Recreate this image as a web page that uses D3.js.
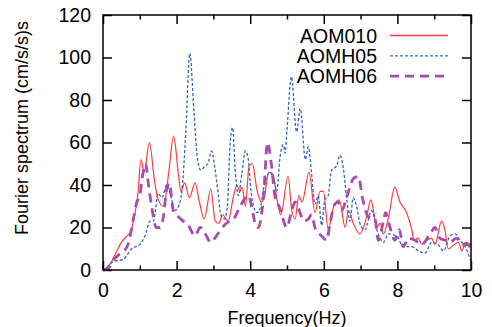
<!DOCTYPE html>
<html>
<head>
<meta charset="utf-8">
<script src="https://cdn.jsdelivr.net/npm/d3@7"></script>
<style>
  body { margin: 0; background: #fff; }
  svg text { font-family: "Liberation Sans", Arial, sans-serif; }
</style>
</head>
<body>
<script>
// [frequency (Hz), amplitude]
const aom010 = [[0,0],[0.2,3],[0.35,8],[0.5,13],[0.65,16],[0.75,18],[0.85,25],[0.95,36],[1.03,52],[1.12,46],[1.26,60],[1.4,42],[1.5,33],[1.65,30],[1.78,45],[1.92,63],[2.05,45],[2.12,37],[2.22,41],[2.35,34],[2.5,41],[2.62,32],[2.75,24],[2.93,38],[3.05,23],[3.15,22],[3.25,26],[3.4,23],[3.55,35],[3.64,40],[3.72,37],[3.78,39],[3.87,30],[3.97,49],[4.06,50],[4.18,38],[4.3,32],[4.38,34],[4.5,46],[4.62,45],[4.73,33],[4.83,26],[5.03,44],[5.13,28],[5.22,24],[5.32,35],[5.41,32],[5.6,46],[5.76,27],[5.9,37],[5.99,37],[6.12,19],[6.27,30],[6.42,33],[6.58,20],[6.67,28],[6.8,22],[6.98,17],[7.15,24],[7.28,33],[7.36,27],[7.44,20],[7.53,22],[7.62,17],[7.75,24],[7.93,39],[8.07,32],[8.25,27],[8.39,19],[8.45,14],[8.57,15],[8.66,12],[8.8,14],[8.93,15],[9.02,12],[9.2,23],[9.29,19],[9.38,10],[9.55,12],[9.66,13],[9.75,9],[9.85,13],[10,12]];
const aomh05 = [[0,0],[0.1,1],[0.28,4],[0.55,5],[0.78,10],[1.0,12],[1.14,16],[1.28,23],[1.37,23],[1.5,36],[1.6,34],[1.73,40],[1.87,33],[1.95,28],[2.05,30],[2.15,38],[2.25,65],[2.36,102],[2.47,75],[2.57,52],[2.66,47],[2.77,49],[2.85,50],[2.95,56],[3.04,48],[3.13,36],[3.2,26],[3.3,24],[3.38,30],[3.45,58],[3.52,67],[3.6,45],[3.68,35],[3.77,45],[3.87,56],[3.95,52],[4.0,41],[4.09,30],[4.18,27],[4.27,29],[4.36,38],[4.54,46],[4.65,42],[4.72,37],[4.81,53],[4.9,59],[4.95,55],[5.0,66],[5.12,91],[5.26,65],[5.36,76],[5.5,52],[5.58,58],[5.67,45],[5.76,31],[5.85,35],[5.94,21],[6.03,33],[6.12,35],[6.21,47],[6.35,49],[6.44,54],[6.53,48],[6.62,34],[6.71,23],[6.8,34],[6.89,30],[7.0,21],[7.12,19],[7.3,28],[7.44,19],[7.53,15],[7.62,13],[7.75,17],[7.98,16],[8.16,11],[8.39,11],[8.57,9],[8.75,8],[8.93,13],[9.1,12],[9.25,9],[9.43,16],[9.57,17],[9.7,14],[9.84,11],[10,4]];
const aomh06 = [[0,0],[0.15,1],[0.28,4.7],[0.42,7],[0.55,8.6],[0.69,12.5],[0.82,23.5],[0.92,32],[1.0,35],[1.08,45],[1.16,50],[1.23,41],[1.32,30],[1.45,20],[1.55,20],[1.64,25],[1.73,38],[1.8,41],[1.91,28],[2.05,25],[2.18,23],[2.32,21],[2.5,16],[2.64,20],[2.78,17],[2.93,13],[3.04,15],[3.2,19],[3.35,22],[3.55,24],[3.73,30],[3.95,35],[4.05,29],[4.15,21],[4.22,20],[4.36,34],[4.47,60],[4.58,49],[4.67,35],[4.81,29],[4.99,20],[5.13,28],[5.22,32],[5.31,29],[5.47,23],[5.58,24],[5.67,26],[5.76,20],[5.94,16],[6.08,14],[6.17,22],[6.3,31],[6.39,32],[6.49,28],[6.6,33],[6.71,39],[6.8,43],[6.94,44],[7.05,34],[7.21,25],[7.39,24],[7.48,14],[7.62,23],[7.68,27],[7.8,20],[7.93,14],[8.05,19],[8.16,11],[8.3,15],[8.48,14],[8.66,12],[8.89,17],[9.02,20],[9.15,15],[9.29,14],[9.43,13],[9.6,15],[9.75,12],[9.9,12],[10,10]];

const seriesNames = ["AOM010", "AOMH05", "AOMH06"];
const xTicks = [0, 2, 4, 6, 8, 10];
const xMinorTicks = [1, 3, 5, 7, 9];
const yTicks = [0, 20, 40, 60, 80, 100, 120];

const width = 492, height = 327;
const margin = { top: 15, right: 21, bottom: 57, left: 103 };
const w = width - margin.left - margin.right;
const h = height - margin.top - margin.bottom;

const svg = d3.select("body").append("svg")
  .attr("width", width)
  .attr("height", height);

const g = svg.append("g")
  .attr("transform", "translate(" + margin.left + "," + margin.top + ")");

const x = d3.scaleLinear().domain([0, 10]).range([0, w]);
const y = d3.scaleLinear().domain([0, 120]).range([h, 0]);

// axes: ticks point inward, mirrored on top/right
function styleAxis(sel) {
  sel.select(".domain").remove();
  sel.selectAll("line").attr("stroke", "#000").attr("stroke-width", 1.5);
  sel.selectAll("text").attr("font-size", 19.5).attr("fill", "#000")
    .attr("font-family", "Liberation Sans, Arial, sans-serif");
}

g.append("g").attr("transform", "translate(0," + h + ")")
  .call(d3.axisBottom(x).tickValues(xTicks).tickSize(-9).tickPadding(13).tickFormat(d3.format("d")))
  .call(styleAxis);
g.append("g").attr("transform", "translate(0," + h + ")")
  .call(d3.axisBottom(x).tickValues(xMinorTicks).tickSize(-4.5).tickFormat(""))
  .call(styleAxis);
g.append("g")
  .call(d3.axisTop(x).tickValues(xTicks).tickSize(-9).tickFormat(""))
  .call(styleAxis);
g.append("g")
  .call(d3.axisTop(x).tickValues(xMinorTicks).tickSize(-4.5).tickFormat(""))
  .call(styleAxis);
g.append("g")
  .call(d3.axisLeft(y).tickValues(yTicks).tickSize(-9).tickPadding(12))
  .call(styleAxis);
g.append("g").attr("transform", "translate(" + w + ",0)")
  .call(d3.axisRight(y).tickValues(yTicks).tickSize(-9).tickFormat(""))
  .call(styleAxis);

// the lines
const line = d3.line()
  .x(d => x(d[0]))
  .y(d => y(d[1]))
  .curve(d3.curveMonotoneX);

const styles = [
  { data: aom010, color: "#ff3b3b", width: 1.2, dash: null },
  { data: aomh05, color: "#3366c4", width: 1.3, dash: "3,2" },
  { data: aomh06, color: "#a64cb0", width: 2.8, dash: "9,6" }
];

const plot = g.append("g");
styles.forEach(s => {
  plot.append("path")
    .datum(s.data)
    .attr("fill", "none")
    .attr("stroke", s.color)
    .attr("stroke-width", s.width)
    .attr("stroke-dasharray", s.dash)
    .attr("d", line);
});

// frame
g.append("rect")
  .attr("width", w)
  .attr("height", h)
  .attr("fill", "none")
  .attr("stroke", "#000")
  .attr("stroke-width", 1.5);

// legend
const legend = g.append("g");
seriesNames.forEach((name, i) => {
  const ly = 20.5 + i * 20.3;
  legend.append("text")
    .attr("x", 274)
    .attr("y", ly + 7)
    .attr("text-anchor", "end")
    .attr("font-size", 19.5)
    .text(name);
  legend.append("line")
    .attr("x1", 287).attr("x2", 345)
    .attr("y1", ly).attr("y2", ly)
    .attr("stroke", styles[i].color)
    .attr("stroke-width", i === 0 ? 1.5 : styles[i].width)
    .attr("stroke-dasharray", styles[i].dash);
});

// axis titles
svg.append("text")
  .attr("x", margin.left + w / 2)
  .attr("y", 324)
  .attr("text-anchor", "middle")
  .attr("font-size", 18)
  .text("Frequency(Hz)");

svg.append("text")
  .attr("transform", "translate(28," + 128 + ") rotate(-90)")
  .attr("text-anchor", "middle")
  .attr("font-size", 18)
  .text("Fourier spectrum (cm/s/s)s");
</script>
</body>
</html>
